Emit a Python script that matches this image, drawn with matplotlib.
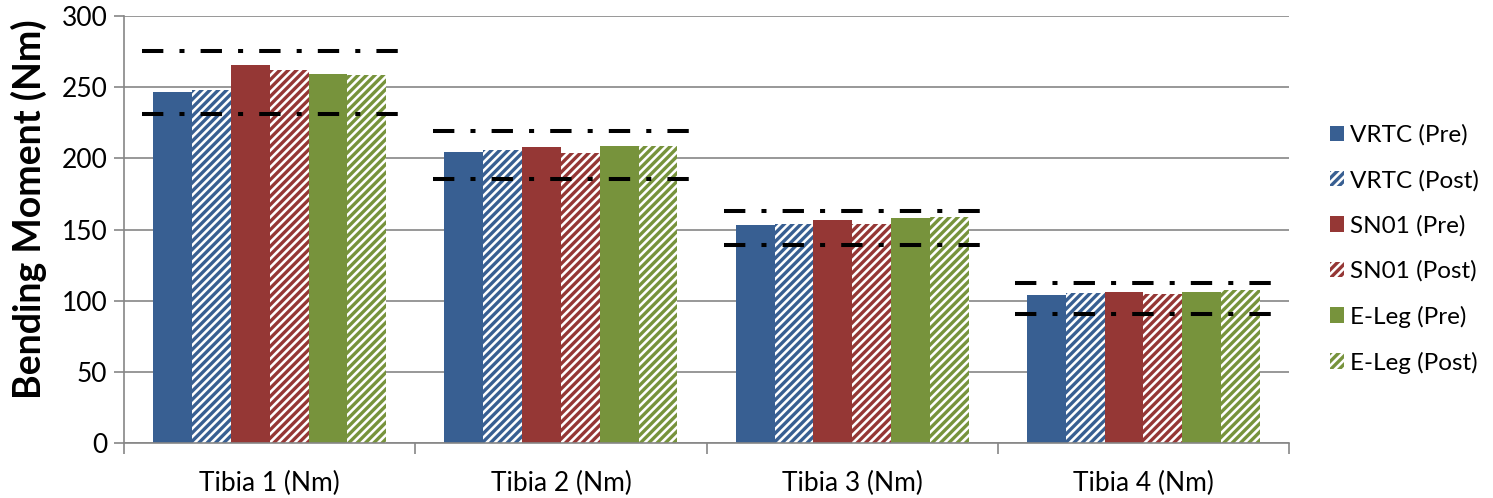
import matplotlib
matplotlib.use("Agg")
import matplotlib.pyplot as plt
import numpy as np

plt.rcParams['font.family'] = ['Lato', 'DejaVu Sans']
plt.rcParams['hatch.linewidth'] = 2.4

categories = ['Tibia 1 (Nm)', 'Tibia 2 (Nm)', 'Tibia 3 (Nm)', 'Tibia 4 (Nm)']
series_names = ['VRTC (Pre)', 'VRTC (Post)', 'SN01 (Pre)', 'SN01 (Post)', 'E-Leg (Pre)', 'E-Leg (Post)']
vrtc_pre = [246.6, 204.4, 152.9, 104.2]
vrtc_post = [247.8, 205.9, 153.6, 105.2]
sn01_pre = [265.6, 207.7, 156.7, 106.1]
sn01_post = [262.0, 204.0, 153.6, 104.7]
eleg_pre = [259.0, 208.9, 158.3, 106.1]
eleg_post = [258.5, 208.7, 159.0, 107.5]
upper_limit = [275.6, 219.4, 163.2, 112.6]
lower_limit = [231.0, 185.7, 139.1, 90.6]

series = [vrtc_pre, vrtc_post, sn01_pre, sn01_post, eleg_pre, eleg_post]
colors = ['#385F92', '#385F92', '#953735', '#953735', '#77933C', '#77933C']
hatched = [False, True, False, True, False, True]

fig = plt.figure(figsize=(14.93, 4.98), dpi=100)
ax = fig.add_axes([0.0831, 0.1104, 0.7803, 0.8575])

x = np.arange(len(categories))
w = 0.8 / 6
for i, (vals, c, h) in enumerate(zip(series, colors, hatched)):
    pos = x - 0.4 + w * (i + 0.5)
    if h:
        ax.bar(pos, vals, w, facecolor='white', edgecolor=c, linewidth=0,
               hatch='////', label=series_names[i], zorder=2)
    else:
        ax.bar(pos, vals, w, color=c, linewidth=0, label=series_names[i], zorder=2)

# dash-dot limit lines
for xi, up, lo in zip(x, upper_limit, lower_limit):
    for v in (up, lo):
        ax.plot([xi - 0.44, xi + 0.44], [v, v], color='black', lw=2.9,
                dashes=(5.3, 4, 1.25, 4), dash_capstyle='butt', zorder=3)

ax.set_xlim(-0.5, 3.5)
ax.set_ylim(0, 300)
ax.set_yticks(range(0, 301, 50))
ax.set_xticks(x)
ax.set_xticklabels(categories)
ax.set_xticks(np.arange(-0.5, 3.6, 1), minor=True)
ax.tick_params(axis='x', which='major', length=0, labelsize=19, pad=20)
ax.tick_params(axis='x', which='minor', length=8, color='#868686', width=1.2)
ax.tick_params(axis='y', length=7, color='#868686', width=1.2, labelsize=19, pad=5)
ax.yaxis.grid(True, color='#868686', lw=1.2, zorder=0)
ax.set_axisbelow(True)
for s in ['top', 'right']:
    ax.spines[s].set_visible(False)
for s in ['left', 'bottom']:
    ax.spines[s].set_color('#868686')
    ax.spines[s].set_linewidth(1.2)

ax.set_ylabel('Bending Moment (Nm)', fontsize=27, fontweight='bold')
ax.yaxis.set_label_coords(-0.066, 0.548)

fig.legend(loc='center left', bbox_to_anchor=(0.8825, 0.50), frameon=False,
           fontsize=17.5, handlelength=0.6, handleheight=0.6, handletextpad=0.25,
           labelspacing=0.98, borderpad=0)

fig.savefig('out.png', dpi=100)
